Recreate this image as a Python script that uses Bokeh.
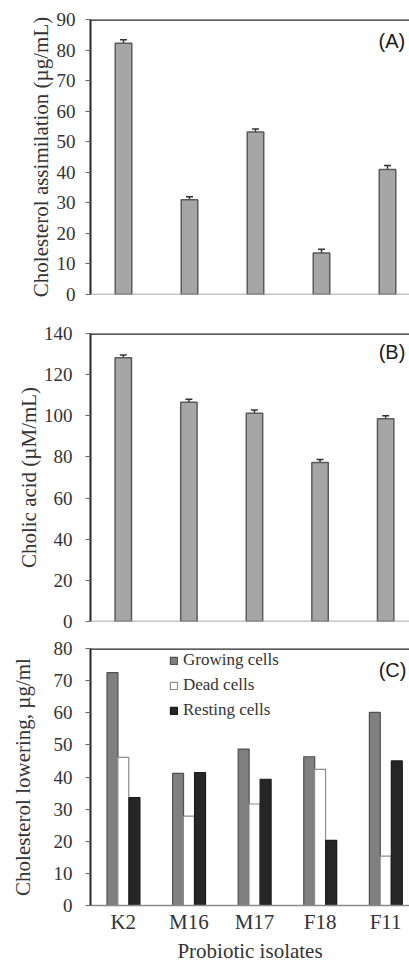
from bokeh.plotting import figure
from bokeh.models import (ColumnDataSource, Whisker, TeeHead, Span, Label,
                          FixedTicker, Range1d, Legend, LegendItem)
from bokeh.layouts import column
from bokeh.embed import file_html
from bokeh.resources import INLINE

# ---------------- data ----------------
isolates = ["K2", "M16", "M17", "F18", "F11"]

assimilation = [82.2, 31.0, 53.2, 13.6, 40.9]
assimilation_err = [1.2, 1.0, 1.0, 1.2, 1.3]

cholic_acid = [128.2, 106.6, 101.2, 77.3, 98.6]
cholic_acid_err = [1.3, 1.4, 1.6, 1.4, 1.4]

growing_cells = [72.5, 41.1, 48.7, 46.3, 60.1]
dead_cells = [46.1, 27.8, 31.6, 42.4, 15.4]
resting_cells = [33.6, 41.4, 39.3, 20.3, 45.0]

ticks_a = [0, 10, 20, 30, 40, 50, 60, 70, 80, 90]
ticks_b = [0, 20, 40, 60, 80, 100, 120, 140]
ticks_c = [0, 10, 20, 30, 40, 50, 60, 70, 80]

# ---------------- styling ----------------
SERIF = "'Liberation Serif', serif"
SANS = "'Liberation Sans', sans-serif"
TXT = "#333333"
FRAME = "#262626"
BASE = "#8a8a8a"
W = 409
UNIT = 66.0  # px per category

xpos = [i + 0.5 for i in range(len(isolates))]


def make_fig(height, top, bottom, left, ymax, ticks, ylabel, lab_standoff, tick_standoff):
    frame_w = W - left
    p = figure(width=W, height=height, output_backend="svg", toolbar_location=None,
               x_range=Range1d(0, frame_w / UNIT), y_range=Range1d(0, ymax),
               min_border_top=top, min_border_bottom=bottom, min_border_left=left,
               min_border_right=0, tools="")
    p.outline_line_color = None
    p.grid.visible = False
    p.background_fill_color = "white"
    p.border_fill_color = "white"
    ya = p.yaxis[0]
    ya.ticker = FixedTicker(ticks=ticks)
    ya.minor_tick_line_color = None
    ya.major_tick_out = 5
    ya.major_tick_in = 0
    ya.major_tick_line_color = "#666666"
    ya.axis_line_color = FRAME
    ya.axis_line_width = 2
    ya.major_label_text_font = SERIF
    ya.major_label_text_font_size = "19px"
    ya.major_label_text_color = TXT
    ya.major_label_standoff = tick_standoff
    ya.axis_label = ylabel
    ya.axis_label_text_font = SERIF
    ya.axis_label_text_font_size = "21px"
    ya.axis_label_text_font_style = "normal"
    ya.axis_label_text_color = TXT
    ya.axis_label_standoff = lab_standoff
    p.add_layout(Span(location=ymax, dimension="width", line_color=FRAME, line_width=2.5))
    return p


def panel_label(p, text, x, y):
    p.add_layout(Label(x=x, y=y, text=text, text_font=SANS, text_font_size="20px",
                       text_color="#1a1a1a", text_baseline="middle", text_align="left"))


# ---------------- panel A ----------------
pa = make_fig(305, 19, 11, 90, 90, ticks_a, "Cholesterol assimilation (\u00b5g/mL)", 1, 10)
pa.xaxis.visible = False
src_a = ColumnDataSource(dict(x=xpos, top=assimilation,
                              upper=[v + e for v, e in zip(assimilation, assimilation_err)],
                              lower=[v - e for v, e in zip(assimilation, assimilation_err)]))
pa.add_layout(Span(location=0, dimension="width", line_color=BASE, line_width=1.5))
pa.vbar(x="x", top="top", width=0.25, source=src_a, fill_color="#a6a6a6",
        line_color="#5a5a5a", line_width=1.5)
pa.add_layout(Whisker(base="x", upper="upper", lower="lower", source=src_a,
                      line_color=TXT, line_width=1.5,
                      upper_head=TeeHead(size=7, line_color=TXT, line_width=1.5),
                      lower_head=TeeHead(size=7, line_color=TXT, line_width=1.5)))
panel_label(pa, "(A)", 4.364, 83)

# ---------------- panel B ----------------
pb = make_fig(327, 28, 11, 88, 140, ticks_b, "Cholic acid (\u00b5M/mL)", 0, 13)
pb.xaxis.visible = False
src_b = ColumnDataSource(dict(x=xpos, top=cholic_acid,
                              upper=[v + e for v, e in zip(cholic_acid, cholic_acid_err)],
                              lower=[v - e for v, e in zip(cholic_acid, cholic_acid_err)]))
pb.add_layout(Span(location=0, dimension="width", line_color=BASE, line_width=1.5))
pb.vbar(x="x", top="top", width=0.25, source=src_b, fill_color="#a6a6a6",
        line_color="#5a5a5a", line_width=1.5)
pb.add_layout(Whisker(base="x", upper="upper", lower="lower", source=src_b,
                      line_color=TXT, line_width=1.5,
                      upper_head=TeeHead(size=7, line_color=TXT, line_width=1.5),
                      lower_head=TeeHead(size=7, line_color=TXT, line_width=1.5)))
panel_label(pb, "(B)", 4.394, 130.8)

# ---------------- panel C ----------------
pc = make_fig(334, 16, 61, 88, 80, ticks_c, "Cholesterol lowering, \u00b5g/ml", 16, 13)
xa = pc.xaxis[0]
xa.ticker = FixedTicker(ticks=xpos)
xa.major_label_overrides = {x: name for x, name in zip(xpos, isolates)}
xa.major_tick_line_color = None
xa.minor_tick_line_color = None
xa.major_tick_out = 0
xa.major_tick_in = 0
xa.axis_line_color = BASE
xa.axis_line_width = 1.5
xa.major_label_text_font = SERIF
xa.major_label_text_font_size = "21px"
xa.major_label_text_color = TXT
xa.major_label_standoff = 4
xa.axis_label = "Probiotic isolates"
xa.axis_label_text_font = SERIF
xa.axis_label_text_font_size = "21px"
xa.axis_label_text_font_style = "normal"
xa.axis_label_text_color = TXT
xa.axis_label_standoff = 2

bw = 0.167
src_c = ColumnDataSource(dict(xg=[x - 0.165 for x in xpos], xd=xpos,
                              xr=[x + 0.17 for x in xpos],
                              growing=growing_cells, dead=dead_cells, resting=resting_cells))
rg = pc.vbar(x="xg", top="growing", width=bw, source=src_c, fill_color="#808080",
             line_color="#505050", line_width=1.2)
rd = pc.vbar(x="xd", top="dead", width=bw, source=src_c, fill_color="white",
             line_color="#8c8c8c", line_width=1.2)
rr = pc.vbar(x="xr", top="resting", width=bw, source=src_c, fill_color="#262626",
             line_color="#1a1a1a", line_width=1.2)
legend = Legend(items=[LegendItem(label="Growing cells", renderers=[rg]),
                       LegendItem(label="Dead cells", renderers=[rd]),
                       LegendItem(label="Resting cells", renderers=[rr])],
                location=(79, 185), orientation="vertical",
                label_text_font=SERIF, label_text_font_size="17px", label_text_color=TXT,
                glyph_width=9, glyph_height=9, label_height=20, label_standoff=5,
                spacing=5, padding=0, margin=0, border_line_color=None,
                background_fill_alpha=0)
pc.add_layout(legend)
panel_label(pc, "(C)", 4.394, 73.2)

layout = column(pa, pb, pc, spacing=0)
open("out.html", "w").write(file_html(layout, INLINE))
